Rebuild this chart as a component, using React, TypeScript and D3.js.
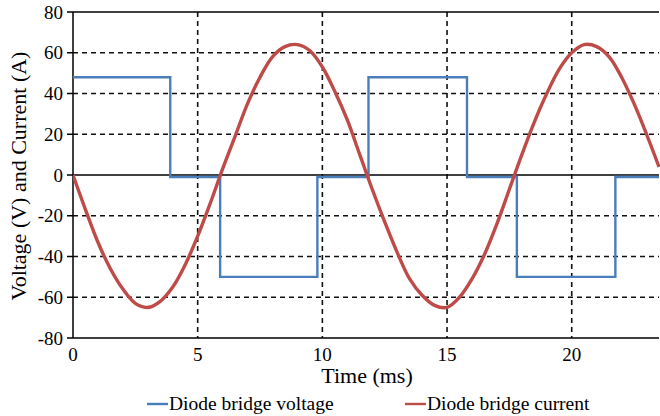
import React, { useEffect, useRef } from 'react';
import * as d3 from 'd3';

// time axis (ms) and levels of the diode bridge voltage (square wave)
const voltageEdges = [0, 3.9, 5.9, 9.8, 11.85, 15.8, 17.8, 21.75, 23.5];
const voltageLevels = [48, -1, -50, -1, 48, -1, -50, -1, -1];

// diode bridge current, sampled every 0.5 ms
const currentTimes = [
  0, 0.5, 1, 1.5, 2, 2.5, 3, 3.5, 4, 4.5, 5, 5.5, 6, 6.5, 7, 7.5, 8, 8.5, 9, 9.5,
  10, 10.5, 11, 11.5, 12, 12.5, 13, 13.5, 14, 14.5, 15, 15.5, 16, 16.5, 17, 17.5,
  18, 18.5, 19, 19.5, 20, 20.5, 21, 21.5, 22, 22.5, 23, 23.5,
];
const currentValues = [
  0, -17, -33, -46, -56, -63, -65, -62, -55, -44, -30, -14, 3, 19, 35, 48, 58, 63, 64, 61,
  53, 41, 27, 10, -7, -23, -38, -51, -59, -64, -65, -60, -51, -39, -24, -7,
  10, 26, 40, 52, 60, 64, 63, 58, 48, 35, 20, 4,
];

const yTicks = [-80, -60, -40, -20, 0, 20, 40, 60, 80];
const xTicks = [0, 5, 10, 15, 20];

const seriesNames = ['Diode bridge voltage', 'Diode bridge current'];
const seriesColors = ['#4a7ebb', '#be4b48'];

function App() {
  const svgRef = useRef<SVGSVGElement>(null);
  const width = 660;
  const height = 416;

  useEffect(() => {
    const svg = d3.select(svgRef.current);
    svg.selectAll('*').remove();

    const left = 73, right = 659, top = 12, bottom = 338;
    const font = '"Liberation Serif", "Times New Roman", serif';

    const x = d3.scaleLinear().domain([0, 23.5]).range([left, right]);
    const y = d3.scaleLinear().domain([-80, 80]).range([bottom, top]);

    svg.append('rect').attr('width', width).attr('height', height).attr('fill', '#fff');

    // grid
    const grid = svg.append('g').attr('stroke', '#111').attr('stroke-width', 1.6).attr('stroke-dasharray', '5,4');
    grid.selectAll('line.h')
      .data(yTicks.filter(d => d !== 0 && Math.abs(d) !== 80))
      .enter().append('line')
      .attr('x1', left).attr('x2', right)
      .attr('y1', d => y(d)).attr('y2', d => y(d));
    grid.selectAll('line.v')
      .data(xTicks.filter(d => d !== 0))
      .enter().append('line')
      .attr('y1', top).attr('y2', bottom)
      .attr('x1', d => x(d)).attr('x2', d => x(d));

    // frame lines
    const frame = svg.append('g').attr('stroke', '#000').attr('stroke-width', 1.5);
    frame.append('line').attr('x1', left).attr('x2', right).attr('y1', y(80)).attr('y2', y(80));
    frame.append('line').attr('x1', left).attr('x2', right).attr('y1', y(0)).attr('y2', y(0));
    frame.append('line').attr('x1', left).attr('x2', right).attr('y1', y(-80)).attr('y2', y(-80));
    frame.append('line').attr('x1', left).attr('x2', left).attr('y1', top).attr('y2', bottom);
    frame.selectAll('line.tick')
      .data(yTicks)
      .enter().append('line')
      .attr('x1', left - 6).attr('x2', left)
      .attr('y1', d => y(d)).attr('y2', d => y(d));

    // tick labels
    svg.append('g').selectAll('text')
      .data(yTicks)
      .enter().append('text')
      .attr('x', left - 10)
      .attr('y', d => y(d))
      .attr('dy', '0.35em')
      .attr('text-anchor', 'end')
      .attr('font-family', font)
      .attr('font-size', 19)
      .text(d => d);
    svg.append('g').selectAll('text')
      .data(xTicks)
      .enter().append('text')
      .attr('x', d => x(d))
      .attr('y', 361)
      .attr('text-anchor', 'middle')
      .attr('font-family', font)
      .attr('font-size', 19)
      .text(d => d);

    // axis titles
    svg.append('text')
      .attr('x', 367).attr('y', 383)
      .attr('text-anchor', 'middle')
      .attr('font-family', font)
      .attr('font-size', 22)
      .text('Time (ms)');
    svg.append('text')
      .attr('transform', 'translate(26,176) rotate(-90)')
      .attr('text-anchor', 'middle')
      .attr('font-family', font)
      .attr('font-size', 22)
      .text('Voltage (V) and Current (A)');

    // series
    const clip = svg.append('clipPath').attr('id', 'plot-clip');
    clip.append('rect').attr('x', left).attr('y', 0).attr('width', right - left + 2).attr('height', height);
    const plot = svg.append('g').attr('clip-path', 'url(#plot-clip)');

    const voltageLine = d3.line<number>()
      .x((d, i) => x(voltageEdges[i]))
      .y(d => y(d))
      .curve(d3.curveStepAfter);
    plot.append('path')
      .datum(voltageLevels)
      .attr('d', voltageLine)
      .attr('fill', 'none')
      .attr('stroke', seriesColors[0])
      .attr('stroke-width', 2.4);

    const currentLine = d3.line<number>()
      .x((d, i) => x(currentTimes[i]))
      .y(d => y(d))
      .curve(d3.curveCatmullRom);
    plot.append('path')
      .datum(currentValues)
      .attr('d', currentLine)
      .attr('fill', 'none')
      .attr('stroke', seriesColors[1])
      .attr('stroke-width', 3.4);

    // legend
    const legendX = [147, 405];
    const legend = svg.append('g');
    seriesNames.forEach((name, i) => {
      legend.append('line')
        .attr('x1', legendX[i]).attr('x2', legendX[i] + 21)
        .attr('y1', 404).attr('y2', 404)
        .attr('stroke', seriesColors[i])
        .attr('stroke-width', 2.4);
      legend.append('text')
        .attr('x', legendX[i] + 22)
        .attr('y', 410)
        .attr('font-family', font)
        .attr('font-size', 19.5)
        .text(name);
    });
  }, []);

  return (
    <svg
      ref={svgRef}
      width={width}
      height={height}
      style={{ position: 'absolute', left: 0, top: 0 }}
    ></svg>
  );
}

export default App;
